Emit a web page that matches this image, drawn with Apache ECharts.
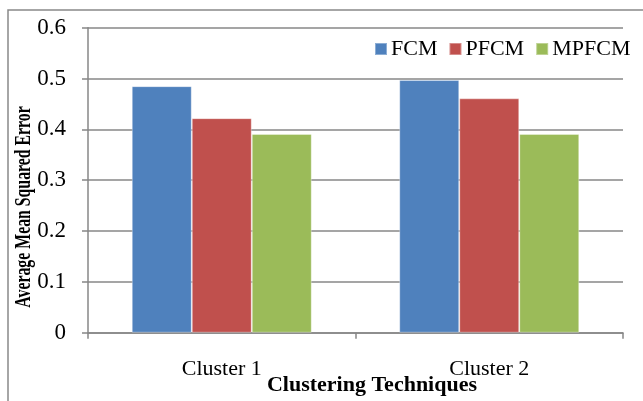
<!DOCTYPE html>
<html>
<head>
<meta charset="utf-8">
<script src="https://cdn.jsdelivr.net/npm/echarts@6/dist/echarts.min.js"></script>
<style>
  html, body { margin: 0; padding: 0; background: #fff; }
  #chart { width: 643px; height: 401px; }
</style>
</head>
<body>
<div id="chart"></div>
<script>
// Average mean squared error of three clustering techniques on two clusters
const categories = ['Cluster 1', 'Cluster 2'];
const seriesNames = ['FCM', 'PFCM', 'MPFCM'];
const fcmValues = [0.485, 0.497];
const pfcmValues = [0.422, 0.461];
const mpfcmValues = [0.391, 0.391];
const yTicks = [0, 0.1, 0.2, 0.3, 0.4, 0.5, 0.6];

const colors = ['#4F81BD', '#C0504D', '#9BBB59'];
const serif = '"Liberation Serif", "Times New Roman", serif';
const gridGray = '#878787';

const chart = echarts.init(document.getElementById('chart'), null, { renderer: 'canvas' });

function barSeries(name, data, color) {
  return {
    name: name,
    type: 'bar',
    data: data,
    barWidth: 60,
    barGap: '0%',
    itemStyle: { color: color, borderColor: 'rgba(255,255,255,0.35)', borderWidth: 1 }
  };
}

chart.setOption({
  animation: false,
  color: colors,
  grid: { left: 88, right: 20, top: 27.7, bottom: 68.3, containLabel: false },
  legend: {
    data: seriesNames,
    left: 374,
    top: 38,
    padding: 0,
    icon: 'rect',
    itemWidth: 12,
    itemHeight: 12,
    itemGap: 11,
    textStyle: { fontFamily: serif, fontSize: 22, color: '#000', padding: [0, 0, 0, -1] }
  },
  xAxis: {
    type: 'category',
    data: categories,
    axisLine: { lineStyle: { color: gridGray, width: 1.5 } },
    axisTick: { show: true, length: 6, interval: 0, lineStyle: { color: gridGray, width: 1.5 } },
    axisLabel: { fontFamily: serif, fontSize: 22, color: '#000', margin: 26 },
    splitLine: { show: false }
  },
  yAxis: {
    type: 'value',
    min: yTicks[0],
    max: yTicks[yTicks.length - 1],
    interval: 0.1,
    axisLine: { show: true, lineStyle: { color: gridGray, width: 1.5 } },
    axisTick: { show: true, length: 6, lineStyle: { color: gridGray, width: 1.5 } },
    axisLabel: {
      fontFamily: serif, fontSize: 23, color: '#000', margin: 22,
      formatter: v => String(Math.round(v * 10) / 10)
    },
    splitLine: { show: true, lineStyle: { color: gridGray, width: 1.5 } }
  },
  series: [
    barSeries(seriesNames[0], fcmValues, colors[0]),
    barSeries(seriesNames[1], pfcmValues, colors[1]),
    barSeries(seriesNames[2], mpfcmValues, colors[2])
  ],
  graphic: [
    {
      type: 'rect',
      shape: { x: 8, y: 10, width: 700, height: 450 },
      style: { fill: null, stroke: '#898989', lineWidth: 1.5 },
      silent: true,
      z: -1
    },
    {
      type: 'text',
      x: 372,
      y: 385,
      style: {
        text: 'Clustering Techniques',
        fontFamily: serif, fontSize: 22, fontWeight: 'bold', fill: '#000',
        align: 'center', verticalAlign: 'middle'
      }
    },
    {
      type: 'text',
      x: 24,
      y: 207,
      rotation: Math.PI / 2,
      scaleY: 1.45,
      style: {
        text: 'Average Mean Squared Error',
        fontFamily: serif, fontSize: 15.8, fontWeight: 'bold', fill: '#000',
        align: 'center', verticalAlign: 'middle'
      }
    }
  ]
});
</script>
</body>
</html>
